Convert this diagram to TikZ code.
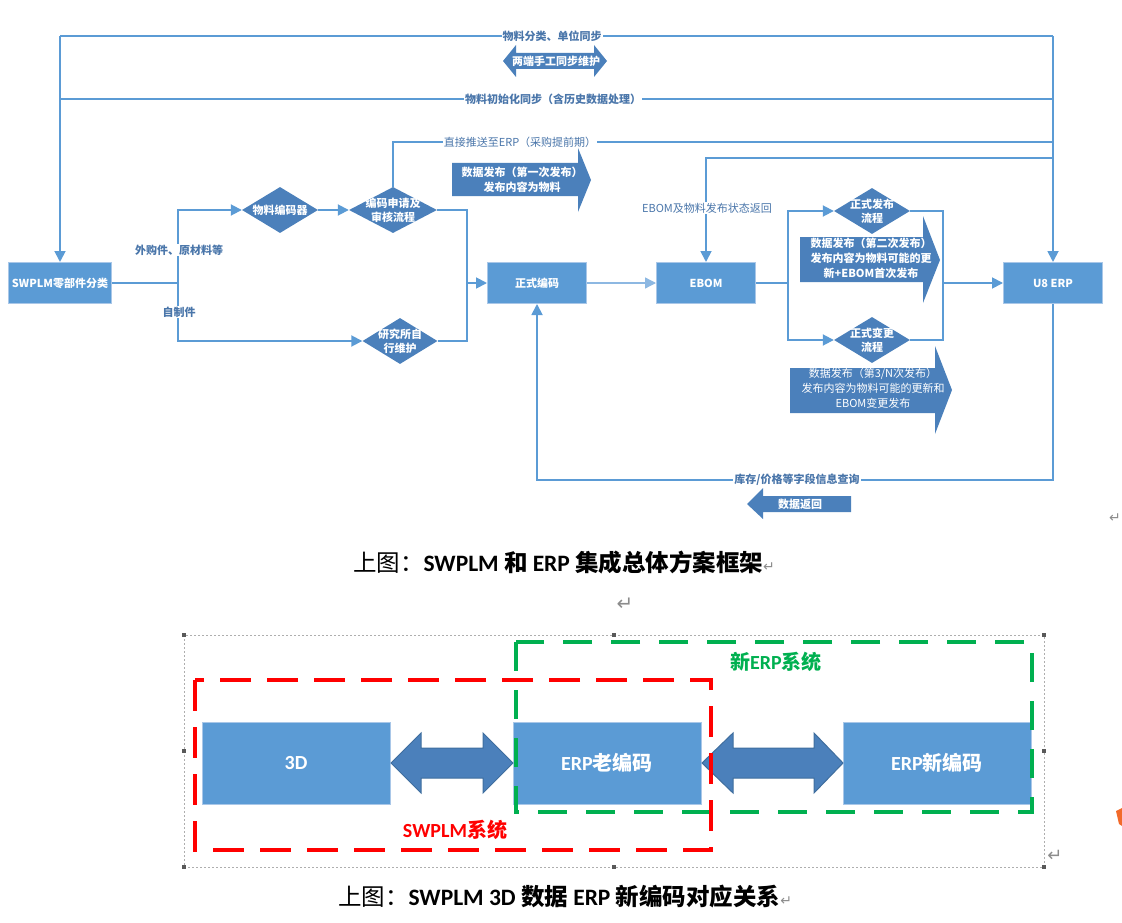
\documentclass[tikz,border=0pt]{standalone}
\usepackage{fontspec}
\setmainfont{Noto Sans CJK SC}
\newfontfamily\lat{Carlito}
\newfontfamily\sym{DejaVu Sans}
\usetikzlibrary{arrows.meta,shapes.geometric}
\definecolor{boxblue}{HTML}{5B9BD5}
\definecolor{boxedge}{HTML}{A9C7E8}
\definecolor{darkblue}{HTML}{4B80BB}
\definecolor{darkedge}{HTML}{3F6E9E}
\definecolor{linkblue}{HTML}{5B9BD5}
\definecolor{linklight}{HTML}{8DB8E2}
\definecolor{textblue}{HTML}{4A76AA}
\definecolor{newgreen}{HTML}{00B050}
\definecolor{oldred}{HTML}{FF0000}
\definecolor{markgrey}{HTML}{8C8C8C}
\definecolor{iconorange}{HTML}{F26A2A}

\begin{document}
\begin{tikzpicture}[x=1pt, y=-1pt,
  box/.style={rectangle, fill=boxblue, draw=boxedge, line width=1pt, minimum width=99pt, minimum height=41pt, text=white, font=\fontsize{11}{13}\selectfont\bfseries},
  decision/.style={diamond, fill=darkblue, inner sep=0pt, minimum width=76pt, minimum height=46pt},
  dtext/.style={text=white, align=center, inner sep=0pt, font=\fontsize{11}{14}\selectfont\bfseries},
  link/.style={draw=linkblue, line width=1.8pt},
  arr/.style={-{Triangle[length=11pt,width=11pt]}},
  note/.style={fill=white, text=textblue, inner sep=1pt, font=\fontsize{11}{13}\selectfont\bfseries},
  block/.style={fill=darkblue},
  btext/.style={text=white, align=center, inner sep=0pt, font=\fontsize{11}{15}\selectfont\bfseries},
  bigbox/.style={rectangle, fill=boxblue, draw=boxedge, line width=0.8pt, minimum width=188pt, minimum height=82pt, text=white, font=\fontsize{20}{24}\selectfont\bfseries},
  dbl/.style={fill=darkblue, draw=darkedge, line width=1pt},
  zone/.style={line width=3.5pt},
  caption/.style={text=black, inner sep=0pt, font=\fontsize{23.5}{27}\selectfont},
  ret/.style={text=markgrey, inner sep=0pt},
  handle/.style={fill=gray!70!black, minimum size=4pt, inner sep=0pt},
]
\useasboundingbox (0,0) rectangle (1122,923);

% upper chart: boxes and diamonds
\node[box] (swplm) at (60,283) {SWPLM零部件分类};
\node[box] (formal) at (537,283) {正式编码};
\node[box] (ebom) at (706,283) {EBOM};
\node[box] (u8) at (1053,283) {U8 ERP};
\node[decision, label={[dtext]center:物料编码器}] (coder) at (280,210) {};
\node[decision, minimum width=88pt, label={[dtext]center:{编码申请及\\审核流程}}] (apply) at (393,210) {};
\node[decision, minimum width=75pt, label={[dtext]center:{研究所自\\行维护}}] (self) at (400,341) {};
\node[decision, label={[dtext]center:{正式发布\\流程}}] (release) at (872,211) {};
\node[decision, label={[dtext]center:{正式变更\\流程}}] (change) at (872,340) {};

\coordinate (tl) at (60,36);
\coordinate (tr) at (1053,36);
\coordinate (ml) at (60,99);
\coordinate (mr) at (1053,99);
\coordinate (pr) at (1053,142);
\coordinate (er) at (1053,158);
\coordinate (fork1) at (178,283);
\coordinate (meet1) at (467,283);
\coordinate (fork2) at (788,283);
\coordinate (meet2) at (943,283);
\coordinate (qr) at (797,480);

% connectors
\draw[link] (tl) -- (tr);
\draw[link] (ml) -- (mr);
\draw[link, arr] (tl) -- (swplm);
\draw[link, arr] (tr) -- (u8);
\draw[link] (apply.north) |- (pr);
\draw[link, arr] (er) -| (ebom.north);
\draw[link] (swplm) -- (fork1);
\draw[link, arr] (fork1) |- (coder.west);
\draw[link, arr] (fork1) |- (self.west);
\draw[link, arr] (coder) -- (apply);
\draw[link] (apply.east) -| (meet1);
\draw[link] (self.east) -| (meet1);
\draw[link, arr] (meet1) -- (formal);
\draw[link, draw=linklight, line width=1.3pt, arr] (formal) -- (ebom);
\draw[link] (ebom) -- (fork2);
\draw[link, arr] (fork2) |- (release.west);
\draw[link, arr] (fork2) |- (change.west);
\draw[link] (release.east) -| (meet2);
\draw[link] (change.east) -| (meet2);
\draw[link, arr] (meet2) -- (u8);
\draw[link, arr] (u8) |- (qr) -| (formal);

% labels on the lines
\node[note] (sync) at (552,36) {物料分类、单位同步};
\node[note] (init) at (553,99) {物料初始化同步（含历史数据处理）};
\node[note, font=\fontsize{11}{13}\selectfont] (push) at (520,142) {直接推送至ERP（采购提前期）};
\node[note, font=\fontsize{11}{13}\selectfont] (back) at (707,208) {EBOM及物料发布状态返回};
\node[note] (buy) at (179,250) {外购件、原材料等};
\node[note] (make) at (179,312) {自制件};
\node[note] (query) at (qr) {库存/价格等字段信息查询};

% block arrows
\fill[block] (503,61) -- (516,45) -- (516,53) -- (594,53) -- (594,45) -- (607,61) -- (594,77) -- (594,69) -- (516,69) -- (516,77) -- cycle;
\node[btext] (manual) at (556,61) {两端手工同步维护};
\fill[block] (452,163) -- (578,163) -- (578,148) -- (591,180) -- (578,212) -- (578,196) -- (452,196) -- cycle;
\node[btext] (pub1) at (522,180) {数据发布（第一次发布）\\发布内容为物料};
\fill[block] (800,237) -- (923,237) -- (923,216) -- (940,260) -- (923,303) -- (923,282) -- (800,282) -- cycle;
\node[btext] (pub2) at (871,258) {数据发布（第二次发布）\\发布内容为物料可能的更\\新+EBOM首次发布};
\fill[block] (790,368) -- (935,368) -- (935,346) -- (952,390) -- (935,434) -- (935,413) -- (790,413) -- cycle;
\node[btext, font=\fontsize{11}{15}\selectfont] (pub3) at (873,388) {数据发布（第3/N次发布）\\发布内容为物料可能的更新和\\EBOM变更发布};
\fill[block] (747,504) -- (763,488) -- (763,496) -- (851,496) -- (851,512) -- (763,512) -- (763,519) -- cycle;
\node[btext] (reply) at (800,504) {数据返回};

\node[caption] (cap1) at (564,563) {上图：{\lat\bfseries SWPLM} \textbf{和} {\lat\bfseries ERP} \textbf{集成总体方案框架}{\sym\fontsize{14}{14}\selectfont\color{markgrey}↵}};
\node[ret, font=\sym\fontsize{14}{14}\selectfont] (mark1) at (1115,518) {↵};
\node[ret, font=\sym\fontsize{20}{20}\selectfont] (mark2) at (625,604) {↵};

% lower chart
\draw[markgrey!70, line width=0.8pt, dash pattern=on 2pt off 2pt] (184,635) rectangle (1044,867);
\foreach \hx/\hy in {184/635, 614/635, 1044/635, 184/751, 1044/751, 184/867, 614/867, 1044/867}
  \node[handle] at (\hx,\hy) {};
\node[bigbox] (threed) at (296,763) {\lat 3D};
\node[bigbox] (oldcode) at (607,763) {{\lat ERP}老编码};
\node[bigbox] (newcode) at (937,763) {{\lat ERP}新编码};
\draw[dbl] (391,763) -- (421,733) -- (421,748) -- (483,748) -- (483,733) -- (513,763) -- (483,793) -- (483,778) -- (421,778) -- (421,793) -- cycle;
\draw[dbl] (702,763) -- (733,733) -- (733,748) -- (814,748) -- (814,733) -- (843,763) -- (814,793) -- (814,778) -- (733,778) -- (733,793) -- cycle;
\draw[zone, draw=newgreen, dash pattern=on 29pt off 19pt] (516,642) rectangle (1032,812);
\draw[zone, draw=oldred, dash pattern=on 31pt off 16pt] (195,680) rectangle (711,850);
\node[text=newgreen, font=\fontsize{20}{24}\selectfont\bfseries] (newsys) at (776,662) {新{\lat ERP}系统};
\node[text=oldred, font=\fontsize{20}{24}\selectfont\bfseries] (oldsys) at (455,830) {{\lat SWPLM}系统};
\node[ret, font=\sym\fontsize{18}{18}\selectfont] (mark3) at (1055,856) {↵};
\fill[iconorange] (1116,811) -- (1122,808) -- (1122,826) -- (1119,824) -- cycle;

\node[caption] (cap2) at (565,897) {上图：{\lat\bfseries SWPLM 3D} \textbf{数据} {\lat\bfseries ERP} \textbf{新编码对应关系}{\sym\fontsize{14}{14}\selectfont\color{markgrey}↵}};
\end{tikzpicture}
\end{document}
